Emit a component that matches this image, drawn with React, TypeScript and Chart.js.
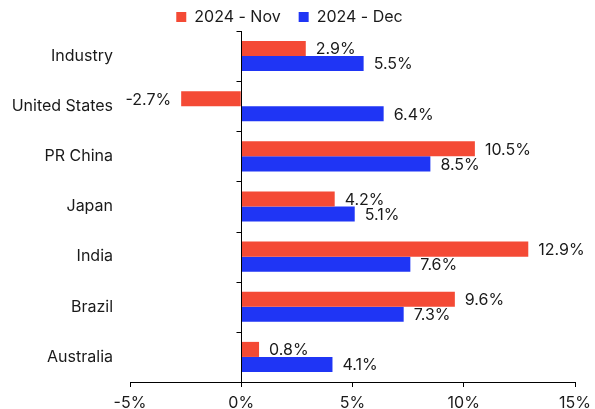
import React, { useEffect, useRef } from "react";
import { Chart, registerables } from "chart.js";

Chart.register(...registerables);

const categories = ["Industry", "United States", "PR China", "Japan", "India", "Brazil", "Australia"];
const novValues = [2.9, -2.7, 10.5, 4.2, 12.9, 9.6, 0.8];
const decValues = [5.5, 6.4, 8.5, 5.1, 7.6, 7.3, 4.1];
const seriesNames = ["2024 - Nov", "2024 - Dec"];
const xTicks = [-5, 0, 5, 10, 15];

const FONT = "Inter";
const FS = 16;
const RED = "#f44a35";
const BLUE = "#1f35f5";

const W = 595;
const H = 420;

const overlay = {
  id: "overlay",
  afterLayout(chart: any) {
    if (chart.legend) {
      chart.legend.left -= 8;
      chart.legend.right -= 8;
    }
  },
  afterDatasetsDraw(chart: any) {
    const { ctx, chartArea, scales } = chart;
    const x0 = scales.x.getPixelForValue(0);
    ctx.save();
    ctx.strokeStyle = "#000";
    ctx.lineWidth = 1;
    ctx.beginPath();
    const xp = Math.round(x0) + 0.5;
    ctx.moveTo(xp, chartArea.top);
    ctx.lineTo(xp, chartArea.bottom);
    const n = categories.length;
    const step = (chartArea.bottom - chartArea.top) / n;
    for (let i = 0; i < n; i++) {
      const y = Math.round(chartArea.top + i * step) + 0.5;
      ctx.moveTo(xp - 5, y);
      ctx.lineTo(xp, y);
    }
    ctx.stroke();

    ctx.font = `${FS}px ${FONT}`;
    ctx.fillStyle = "#1a1a1a";
    ctx.textBaseline = "middle";
    chart.data.datasets.forEach((ds: any, di: number) => {
      const meta = chart.getDatasetMeta(di);
      meta.data.forEach((bar: any, i: number) => {
        const v = ds.data[i];
        const label = v.toFixed(1) + "%";
        if (v >= 0) {
          ctx.textAlign = "left";
          ctx.fillText(label, bar.x + 10, bar.y + 1);
        } else {
          ctx.textAlign = "right";
          ctx.fillText(label, bar.x - 10, bar.y + 1);
        }
      });
    });
    ctx.restore();
  },
};

export default function App() {
  const ref = useRef<HTMLCanvasElement>(null);
  useEffect(() => {
    if (!ref.current) return;
    const chart = new Chart(ref.current, {
      type: "bar",
      data: {
        labels: categories,
        datasets: [
          { label: seriesNames[0], data: novValues, backgroundColor: RED, categoryPercentage: 0.6, barPercentage: 1 },
          { label: seriesNames[1], data: decValues, backgroundColor: BLUE, categoryPercentage: 0.6, barPercentage: 1 },
        ],
      },
      options: {
        indexAxis: "y",
        responsive: false,
        animation: false,
        layout: { padding: { left: 0, right: 0, top: -9, bottom: 0 } },
        plugins: {
          tooltip: { enabled: false },
          legend: {
            position: "top",
            maxHeight: 40,
            labels: {
              boxWidth: 10,
              boxHeight: 10,
              padding: 18,
              color: "#1a1a1a",
              font: { family: FONT, size: FS },
            },
          },
        },
        scales: {
          x: {
            min: -5,
            max: 15,
            afterBuildTicks: (s: any) => {
              s.ticks = xTicks.map((v) => ({ value: v }));
            },
            afterFit: (s: any) => {
              s.height = H - 382;
              s.paddingRight = 20;
              s.paddingLeft = 0;
            },
            ticks: {
              padding: 7,
              color: "#1a1a1a",
              font: { family: FONT, size: FS },
              callback: (v: any) => v + "%",
            },
            grid: { drawOnChartArea: false, drawTicks: true, tickLength: 5, color: "#000" },
            border: { display: true, color: "#000" },
          },
          y: {
            afterFit: (s: any) => {
              s.width = 130;
            },
            ticks: {
              padding: 17,
              color: "#1a1a1a",
              font: { family: FONT, size: FS },
            },
            grid: { display: false, drawTicks: false },
            border: { display: false },
          },
        },
      },
      plugins: [overlay],
    });
    return () => chart.destroy();
  }, []);
  return (
    <div style={{ position: "fixed", left: 0, top: 0, width: W, height: 409, overflow: "hidden", background: "#fff" }}>
      <canvas ref={ref} width={W} height={H} style={{ display: "block" }} />
    </div>
  );
}
